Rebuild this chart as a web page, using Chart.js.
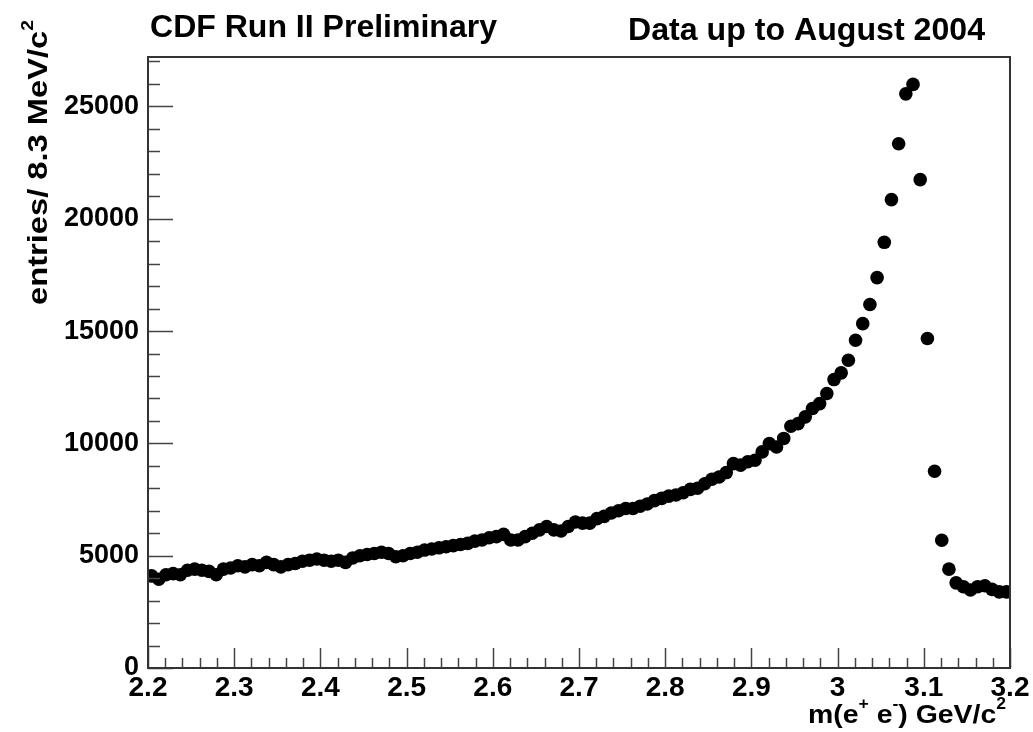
<!DOCTYPE html>
<html>
<head>
<meta charset="utf-8">
<script src="https://cdn.jsdelivr.net/npm/chart.js@4/dist/chart.umd.min.js"></script>
<style>
  html, body { margin: 0; padding: 0; background: #ffffff; }
  #wrap { width: 1033px; height: 732px; }
</style>
</head>
<body>
<div id="wrap"><canvas id="c" width="1033" height="732"></canvas></div>
<script>
// ---- data ----
const binCount = 120;            // 8.3 MeV bins between 2.2 and 3.2 GeV/c^2
const massMin = 2.2;
const massMax = 3.2;
const entries = [
  4100, 3950, 4150, 4200, 4150, 4350, 4400, 4350, 4300, 4150,
  4400, 4450, 4550, 4500, 4600, 4550, 4700, 4600, 4500, 4600,
  4650, 4750, 4800, 4850, 4800, 4750, 4800, 4700, 4900, 5000,
  5050, 5100, 5150, 5100, 4950, 5000, 5100, 5150, 5250, 5300,
  5350, 5400, 5450, 5500, 5550, 5650, 5700, 5800, 5850, 5950,
  5700, 5700, 5850, 6000, 6150, 6300, 6150, 6100, 6300, 6500,
  6450, 6450, 6650, 6750, 6900, 7000, 7100, 7100, 7200, 7300,
  7450, 7550, 7650, 7700, 7800, 7950, 8000, 8200, 8400, 8500,
  8700, 9100, 9030, 9180, 9250, 9620, 9990, 9840, 10220, 10760,
  10880, 11180, 11550, 11770, 12220, 12840, 13140, 13700, 14590, 15330,
  16180, 17380, 18950, 20850, 23340, 25560, 25980, 21740, 14670, 8760,
  5690, 4400, 3790, 3620, 3470, 3620, 3660, 3500, 3390, 3390
];
const xTickValues = [2.2, 2.3, 2.4, 2.5, 2.6, 2.7, 2.8, 2.9, 3.0, 3.1, 3.2];
const xTickLabels = ['2.2', '2.3', '2.4', '2.5', '2.6', '2.7', '2.8', '2.9', '3', '3.1', '3.2'];
const yTickValues = [0, 5000, 10000, 15000, 20000, 25000];
const yTickLabels = ['0', '5000', '10000', '15000', '20000', '25000'];
const yMax = 27200;
const leftTitle = 'CDF Run II Preliminary';
const rightTitle = 'Data up to August 2004';

// ---- build points at bin centres ----
const binWidth = (massMax - massMin) / binCount;
const points = entries.map((v, i) => ({ x: massMin + (i + 0.5) * binWidth, y: v }));

const FONT = '"Liberation Sans", Arial, Helvetica, sans-serif';

function drawRich(ctx, parts, x, y, size, align, target) {
  ctx.save();
  let widths = parts.map(p => {
    ctx.font = 'bold ' + (p.sup ? Math.round(size * 0.6) : size) + 'px ' + FONT;
    return ctx.measureText(p.t).width;
  });
  const total = widths.reduce((a, b) => a + b, 0);
  const sx = target ? target / total : 1;
  const w = total * sx;
  let startX = align === 'right' ? x - w : (align === 'center' ? x - w / 2 : x);
  ctx.translate(startX, y);
  ctx.scale(sx, 1);
  ctx.fillStyle = '#000';
  ctx.textBaseline = 'middle';
  ctx.textAlign = 'left';
  let cx = 0;
  parts.forEach((p, i) => {
    ctx.font = 'bold ' + (p.sup ? Math.round(size * 0.6) : size) + 'px ' + FONT;
    ctx.fillText(p.t, cx, p.sup ? -size * 0.42 : 0);
    cx += widths[i];
  });
  ctx.restore();
}

const framePlugin = {
  id: 'rootFrame',
  afterDatasetsDraw(chart) {
    const { ctx, chartArea: a, scales } = chart;
    const xs = scales.x, ys = scales.y;
    ctx.save();
    ctx.strokeStyle = '#444';
    ctx.lineWidth = 1.5;
    ctx.beginPath();
    for (let k = 0; k <= 50; k++) {
      const v = massMin + k * 0.02;
      const px = Math.round(xs.getPixelForValue(v)) + 0.5;
      const len = (k % 5 === 0) ? 20 : 10;
      ctx.moveTo(px, a.bottom);
      ctx.lineTo(px, a.bottom - len);
    }
    for (let v = 0; v <= yMax; v += 1000) {
      const py = Math.round(ys.getPixelForValue(v)) + 0.5;
      const len = (v % 5000 === 0) ? 25 : 12;
      ctx.moveTo(a.left, py);
      ctx.lineTo(a.left + len, py);
    }
    ctx.stroke();
    ctx.lineWidth = 2;
    ctx.strokeStyle = '#333';
    ctx.strokeRect(a.left, a.top, a.right - a.left, a.bottom - a.top);
    ctx.restore();

    drawRich(ctx, [{ t: leftTitle }], 150, 28, 31, 'left', 347);
    drawRich(ctx, [{ t: rightTitle }], 628, 31, 31, 'left', 357);

    drawRich(ctx, [
      { t: 'm(e' }, { t: '+', sup: true }, { t: ' e' }, { t: '-', sup: true },
      { t: ') GeV/c' }, { t: '2', sup: true }
    ], 1006, 716, 26, 'right', 198);

    ctx.save();
    ctx.translate(40, 305);
    ctx.rotate(-Math.PI / 2);
    drawRich(ctx, [{ t: 'entries/ 8.3 MeV/c' }, { t: '2', sup: true }], 0, 0, 27, 'left', 285);
    ctx.restore();
  }
};

new Chart(document.getElementById('c'), {
  type: 'scatter',
  data: {
    datasets: [{
      data: points,
      backgroundColor: '#000',
      borderColor: '#000',
      pointRadius: 6.8,
      pointHoverRadius: 6.8,
      borderWidth: 0
    }]
  },
  options: {
    responsive: false,
    animation: false,
    devicePixelRatio: 1,
    layout: { padding: { left: 0, right: 23, top: 57, bottom: 0 } },
    plugins: { legend: { display: false }, tooltip: { enabled: false }, title: { display: false } },
    scales: {
      x: {
        type: 'linear',
        min: massMin,
        max: massMax,
        grid: { display: false, drawTicks: false },
        border: { display: false },
        afterFit(s) { s.height = 64; },
        afterBuildTicks(s) { s.ticks = xTickValues.map(v => ({ value: v })); },
        ticks: {
          padding: 3,
          color: '#000',
          maxRotation: 0,
          autoSkip: false,
          font: { family: FONT, size: 28, weight: 'bold' },
          callback(v) {
            const i = xTickValues.findIndex(t => Math.abs(t - v) < 1e-6);
            return i >= 0 ? xTickLabels[i] : '';
          }
        }
      },
      y: {
        type: 'linear',
        min: 0,
        max: yMax,
        grid: { display: false, drawTicks: false },
        border: { display: false },
        afterFit(s) { s.width = 148; },
        afterBuildTicks(s) { s.ticks = yTickValues.map(v => ({ value: v })); },
        ticks: {
          padding: 9,
          color: '#000',
          autoSkip: false,
          font: { family: FONT, size: 27, weight: 'bold' },
          callback(v) {
            const i = yTickValues.indexOf(v);
            return i >= 0 ? yTickLabels[i] : '';
          }
        }
      }
    }
  },
  plugins: [framePlugin]
});
</script>
</body>
</html>
